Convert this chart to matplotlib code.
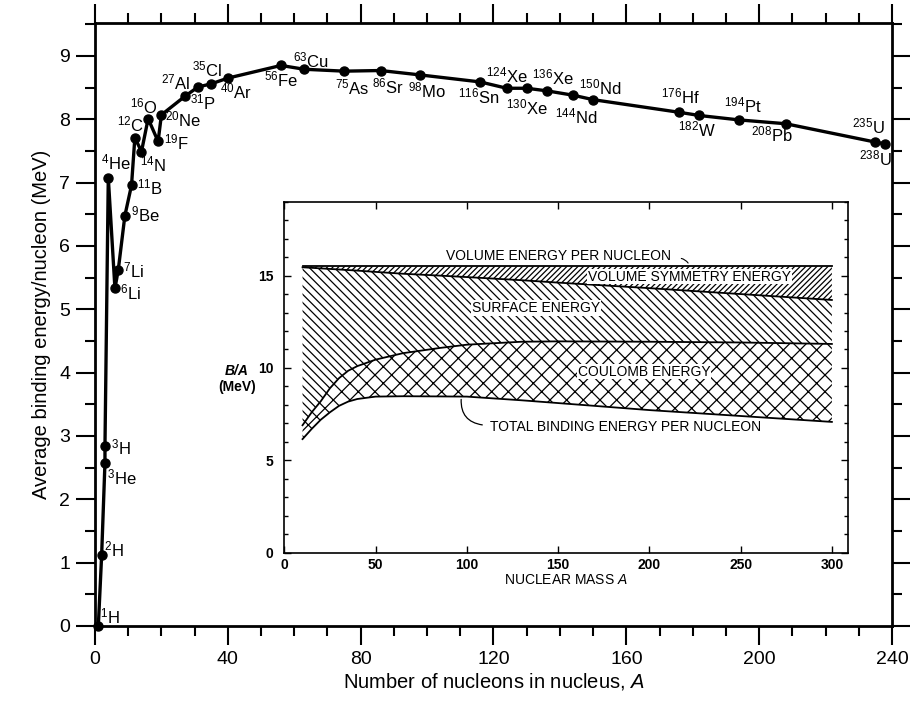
import matplotlib
matplotlib.use('Agg')
import matplotlib.pyplot as plt
from matplotlib.ticker import MultipleLocator

plt.rcParams['font.family'] = ['Liberation Sans', 'DejaVu Sans']
plt.rcParams['mathtext.fontset'] = 'custom'
plt.rcParams['mathtext.rm'] = 'Liberation Sans'
plt.rcParams['mathtext.it'] = 'Liberation Sans:italic'
plt.rcParams['mathtext.bf'] = 'Liberation Sans:bold'
plt.rcParams['hatch.linewidth'] = 0.9

# nuclides: mass number, symbol, B/A (MeV)
mass = [1, 2, 3, 3, 4, 6, 7, 9, 11, 12, 14, 16, 19, 20, 27, 31, 35, 40, 56, 63,
        75, 86, 98, 116, 124, 130, 136, 144, 150, 176, 182, 194, 208, 235, 238]
elem = ['H', 'H', 'H', 'He', 'He', 'Li', 'Li', 'Be', 'B', 'C', 'N', 'O', 'F', 'Ne',
        'Al', 'P', 'Cl', 'Ar', 'Fe', 'Cu', 'As', 'Sr', 'Mo', 'Sn', 'Xe', 'Xe', 'Xe',
        'Nd', 'Nd', 'Hf', 'W', 'Pt', 'Pb', 'U', 'U']
bind = [0.0, 1.12, 2.84, 2.58, 7.08, 5.33, 5.62, 6.48, 6.96, 7.71, 7.49, 8.01, 7.65,
        8.07, 8.36, 8.51, 8.56, 8.65, 8.85, 8.79, 8.76, 8.77, 8.70, 8.59, 8.49, 8.49,
        8.45, 8.38, 8.31, 8.11, 8.06, 7.99, 7.93, 7.64, 7.61]
# order in which the points are joined (3He before 3H as in the figure)
order = [0, 1, 3, 2, 4, 5, 6, 7, 8, 9, 10, 11, 12, 13, 14, 15, 16, 17, 18, 19, 20,
         21, 22, 23, 24, 25, 26, 27, 28, 29, 30, 31, 32, 33, 34]

# label offsets in pixels (layout only)
offs = [(12, 10), (12, 6), (16, -1), (17, -15), (8, 15), (16, -4), (15, 0), (20, 1),
        (18, -2), (-4, 13), (12, -13), (-4, 12), (18, -1), (22, -5), (-9, 14), (5, -15),
        (-4, 14), (8, -13), (0, -14), (7, 9), (8, -16), (7, -16), (7, -15), (-2, -15),
        (0, 13), (0, -19), (6, 13), (3, -21), (7, 12), (1, 16), (-3, -14), (4, 14),
        (-14, -11), (-7, 16), (-10, -14)]

# inset: semi-empirical mass formula contributions
ins_A = [10, 15, 20, 25, 30, 35, 40, 50, 65, 85, 100, 130, 150, 200, 250, 300]
vol_e = [15.5, 15.5, 15.5, 15.5, 15.5, 15.5, 15.5, 15.5, 15.5, 15.5, 15.5, 15.5,
         15.5, 15.5, 15.5, 15.5]
sym_e = [15.45, 15.42, 15.39, 15.36, 15.33, 15.30, 15.27, 15.2, 15.1, 15.0, 14.92,
         14.75, 14.62, 14.32, 14.0, 13.68]
coul_e = [6.9, 7.6, 8.2, 8.9, 9.45, 9.85, 10.1, 10.45, 10.8, 11.08, 11.26, 11.42,
          11.44, 11.42, 11.38, 11.3]
tot_e = [6.15, 6.7, 7.2, 7.6, 7.95, 8.18, 8.32, 8.45, 8.47, 8.46, 8.45, 8.25, 8.1,
         7.72, 7.4, 7.08]

fig = plt.figure(figsize=(9.1, 7.04), dpi=100)
ax = fig.add_axes([0.1044, 0.1108, 0.8758, 0.8565])

xs = [mass[i] for i in order]
ys = [bind[i] for i in order]
ax.plot(xs, ys, '-', color='k', lw=2.4, zorder=3, clip_on=False)
ax.plot(mass, bind, 'o', color='k', ms=6.5, zorder=4, clip_on=False)

for a, s, b, (dx, dy) in zip(mass, elem, bind, offs):
    ax.annotate(f'$^{{{a}}}$' + s, (a, b), xytext=(dx, dy), textcoords='offset pixels',
                ha='center', va='center', fontsize=12)

ax.set_xlim(0, 240)
ax.set_ylim(0, 9.52)
ax.xaxis.set_major_locator(MultipleLocator(40))
ax.xaxis.set_minor_locator(MultipleLocator(10))
ax.yaxis.set_major_locator(MultipleLocator(1))
ax.yaxis.set_minor_locator(MultipleLocator(0.5))
ax.tick_params(which='both', direction='out', top=True, right=True, width=1.5,
               labelsize=14, pad=4)
ax.tick_params(which='major', length=14)
ax.tick_params(which='minor', length=7)
for sp in ax.spines.values():
    sp.set_linewidth(2)
ax.set_xlabel('Number of nucleons in nucleus, $\\mathit{A}$', fontsize=14.5, labelpad=2)
ax.set_ylabel('Average binding energy/nucleon (MeV)', fontsize=14.5, labelpad=6)

# inset
axi = fig.add_axes([0.3124, 0.2149, 0.6198, 0.4986])
axi.fill_between(ins_A, sym_e, vol_e, facecolor='white', edgecolor='k', lw=0,
                 hatch='//////')
axi.fill_between(ins_A, coul_e, sym_e, facecolor='white', edgecolor='k', lw=0,
                 hatch='\\\\\\\\')
axi.fill_between(ins_A, tot_e, coul_e, facecolor='white', edgecolor='k', lw=0,
                 hatch='xx')
for curve in (vol_e, sym_e, coul_e, tot_e):
    axi.plot(ins_A, curve, color='k', lw=1.3)

axi.set_xlim(0, 309)
axi.set_ylim(0, 19)
axi.xaxis.set_major_locator(MultipleLocator(50))
axi.yaxis.set_major_locator(MultipleLocator(5))
axi.yaxis.set_minor_locator(MultipleLocator(1))
axi.tick_params(which='both', direction='in', top=True, right=True, labelsize=10, width=1)
axi.tick_params(which='major', length=5)
axi.tick_params(which='minor', length=3)
axi.tick_params(axis='y', pad=8)
for lab in axi.get_xticklabels() + axi.get_yticklabels():
    lab.set_fontweight('bold')
for sp in axi.spines.values():
    sp.set_linewidth(1.2)
axi.set_xlabel('NUCLEAR MASS $\\mathit{A}$', fontsize=10, labelpad=1)
axi.text(-0.084, 9.85, 'B/A', transform=axi.get_yaxis_transform(), ha='center', va='center',
         fontsize=10, fontstyle='italic', fontweight='bold')
axi.text(-0.084, 8.95, '(MeV)', transform=axi.get_yaxis_transform(), ha='center', va='center',
         fontsize=10, fontweight='bold')

box = dict(facecolor='white', edgecolor='none', pad=0.5)
axi.text(150, 16.05, 'VOLUME ENERGY PER NUCLEON', ha='center', va='center', fontsize=10)
axi.annotate('', xy=(222, 15.55), xytext=(216, 15.95),
             arrowprops=dict(arrowstyle='-', lw=0.8, connectionstyle='arc3,rad=-0.3'))
axi.text(222, 14.95, 'VOLUME SYMMETRY ENERGY', ha='center', va='center', fontsize=10, bbox=box)
axi.text(138, 13.25, 'SURFACE ENERGY', ha='center', va='center', fontsize=10, bbox=box)
axi.text(197, 9.8, 'COULOMB ENERGY', ha='center', va='center', fontsize=10, bbox=box)
axi.text(187, 6.83, 'TOTAL BINDING ENERGY PER NUCLEON', ha='center', va='center',
         fontsize=10, bbox=box)
axi.annotate('', xy=(97, 8.45), xytext=(110, 6.9),
             arrowprops=dict(arrowstyle='-', lw=0.9, connectionstyle='arc3,rad=-0.5'))

fig.savefig('out.png', dpi=100)
